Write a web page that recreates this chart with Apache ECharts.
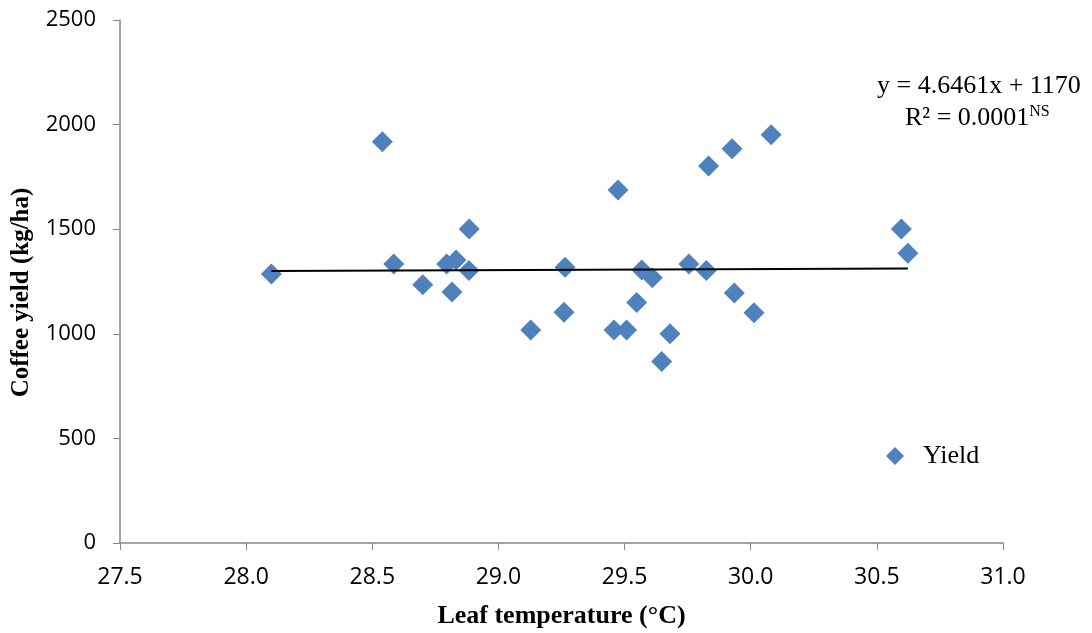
<!DOCTYPE html>
<html>
<head>
<meta charset="utf-8">
<script src="https://cdn.jsdelivr.net/npm/echarts@6/dist/echarts.min.js"></script>
<style>
  html, body { margin: 0; padding: 0; background: #fff; }
  #chart { width: 1092px; height: 633px; }
</style>
</head>
<body>
<div id="chart"></div>
<script>
// leaf temperature (°C) and coffee yield (kg/ha)
var leafTemp = [28.10, 28.54, 28.585, 28.70, 28.795, 28.816, 28.832, 28.883, 28.884, 29.128,
                29.26, 29.264, 29.458, 29.474, 29.508, 29.548, 29.568, 29.61, 29.647, 29.68,
                29.755, 29.824, 29.833, 29.926, 29.935, 30.013, 30.081, 30.597, 30.623];
var yieldVals = [1286, 1918, 1334, 1235, 1334, 1200, 1353, 1302, 1501, 1018,
                 1103, 1318, 1018, 1687, 1018, 1150, 1305, 1268, 867, 1000,
                 1334, 1302, 1802, 1885, 1195, 1101, 1952, 1501, 1385];

// trend line given on the chart
var slope = 4.6461;
var intercept = 1170;

var xTicks = [27.5, 28.0, 28.5, 29.0, 29.5, 30.0, 30.5, 31.0];
var yTicks = [0, 500, 1000, 1500, 2000, 2500];

var points = leafTemp.map(function (t, i) { return [t, yieldVals[i]]; });
var xMin = Math.min.apply(null, leafTemp);
var xMax = Math.max.apply(null, leafTemp);
var trend = [[xMin, slope * xMin + intercept], [xMax, slope * xMax + intercept]];

var chart = echarts.init(document.getElementById('chart'));
chart.setOption({
    animation: false,
    grid: { left: 120, right: 89, top: 20, bottom: 90, containLabel: false, outerBoundsMode: 'none' },
    legend: {
        left: 881, top: 438,
        itemWidth: 18, itemHeight: 18,
        textStyle: { fontFamily: 'Liberation Serif', fontSize: 26, color: '#000', padding: [0, 0, 0, 14] },
        data: [{ name: 'Yield', icon: 'diamond' }]
    },
    xAxis: {
        type: 'value',
        min: xTicks[0], max: xTicks[xTicks.length - 1], interval: 0.5,
        name: 'Leaf temperature (\u00B0C)',
        nameLocation: 'middle', nameGap: 60,
        nameTextStyle: { fontFamily: 'Liberation Serif', fontWeight: 'bold', fontSize: 26, color: '#000' },
        axisLine: { lineStyle: { color: '#868686', width: 1.5 } },
        axisTick: { show: true, length: 7, lineStyle: { color: '#868686' } },
        splitLine: { show: false },
        axisLabel: {
            fontFamily: 'Open Sans', fontSize: 23, color: '#000', margin: 23,
            formatter: function (v) { return v.toFixed(1); }
        }
    },
    yAxis: {
        type: 'value',
        min: yTicks[0], max: yTicks[yTicks.length - 1], interval: 500,
        name: 'Coffee yield (kg/ha)',
        nameLocation: 'middle', nameGap: 86, nameRotate: 90,
        nameTextStyle: { fontFamily: 'Liberation Serif', fontWeight: 'bold', fontSize: 25, color: '#000', padding: [0, 22, 0, 0] },
        axisLine: { show: true, lineStyle: { color: '#868686', width: 1.5 } },
        axisTick: { show: true, length: 7, lineStyle: { color: '#868686' } },
        splitLine: { show: false },
        axisLabel: {
            fontFamily: 'Open Sans', fontSize: 22, color: '#000', margin: 24,
            formatter: function (v) { return String(v); }
        }
    },
    series: [
        {
            name: 'Yield',
            type: 'scatter',
            symbol: 'diamond',
            symbolSize: 21,
            itemStyle: { color: '#4F81BD', opacity: 1 },
            data: points,
            z: 3
        },
        {
            name: 'trend',
            type: 'line',
            data: trend,
            symbol: 'none',
            lineStyle: { color: '#000', width: 2 },
            z: 4
        }
    ],
    graphic: [
        {
            type: 'text', left: 877, top: 73,
            style: {
                text: 'y = 4.6461x + 1170',
                font: '26px "Liberation Serif"', fill: '#000'
            }
        },
        {
            type: 'text', left: 905, top: 104,
            style: {
                text: '{a|R\u00B2 = 0.0001}{b|NS}',
                fill: '#000',
                rich: {
                    a: { fontFamily: 'Liberation Serif', fontSize: 26, color: '#000' },
                    b: { fontFamily: 'Liberation Serif', fontSize: 16, color: '#000', verticalAlign: 'top', padding: [0, 0, 12, 0] }
                }
            }
        }
    ]
});
</script>
</body>
</html>
